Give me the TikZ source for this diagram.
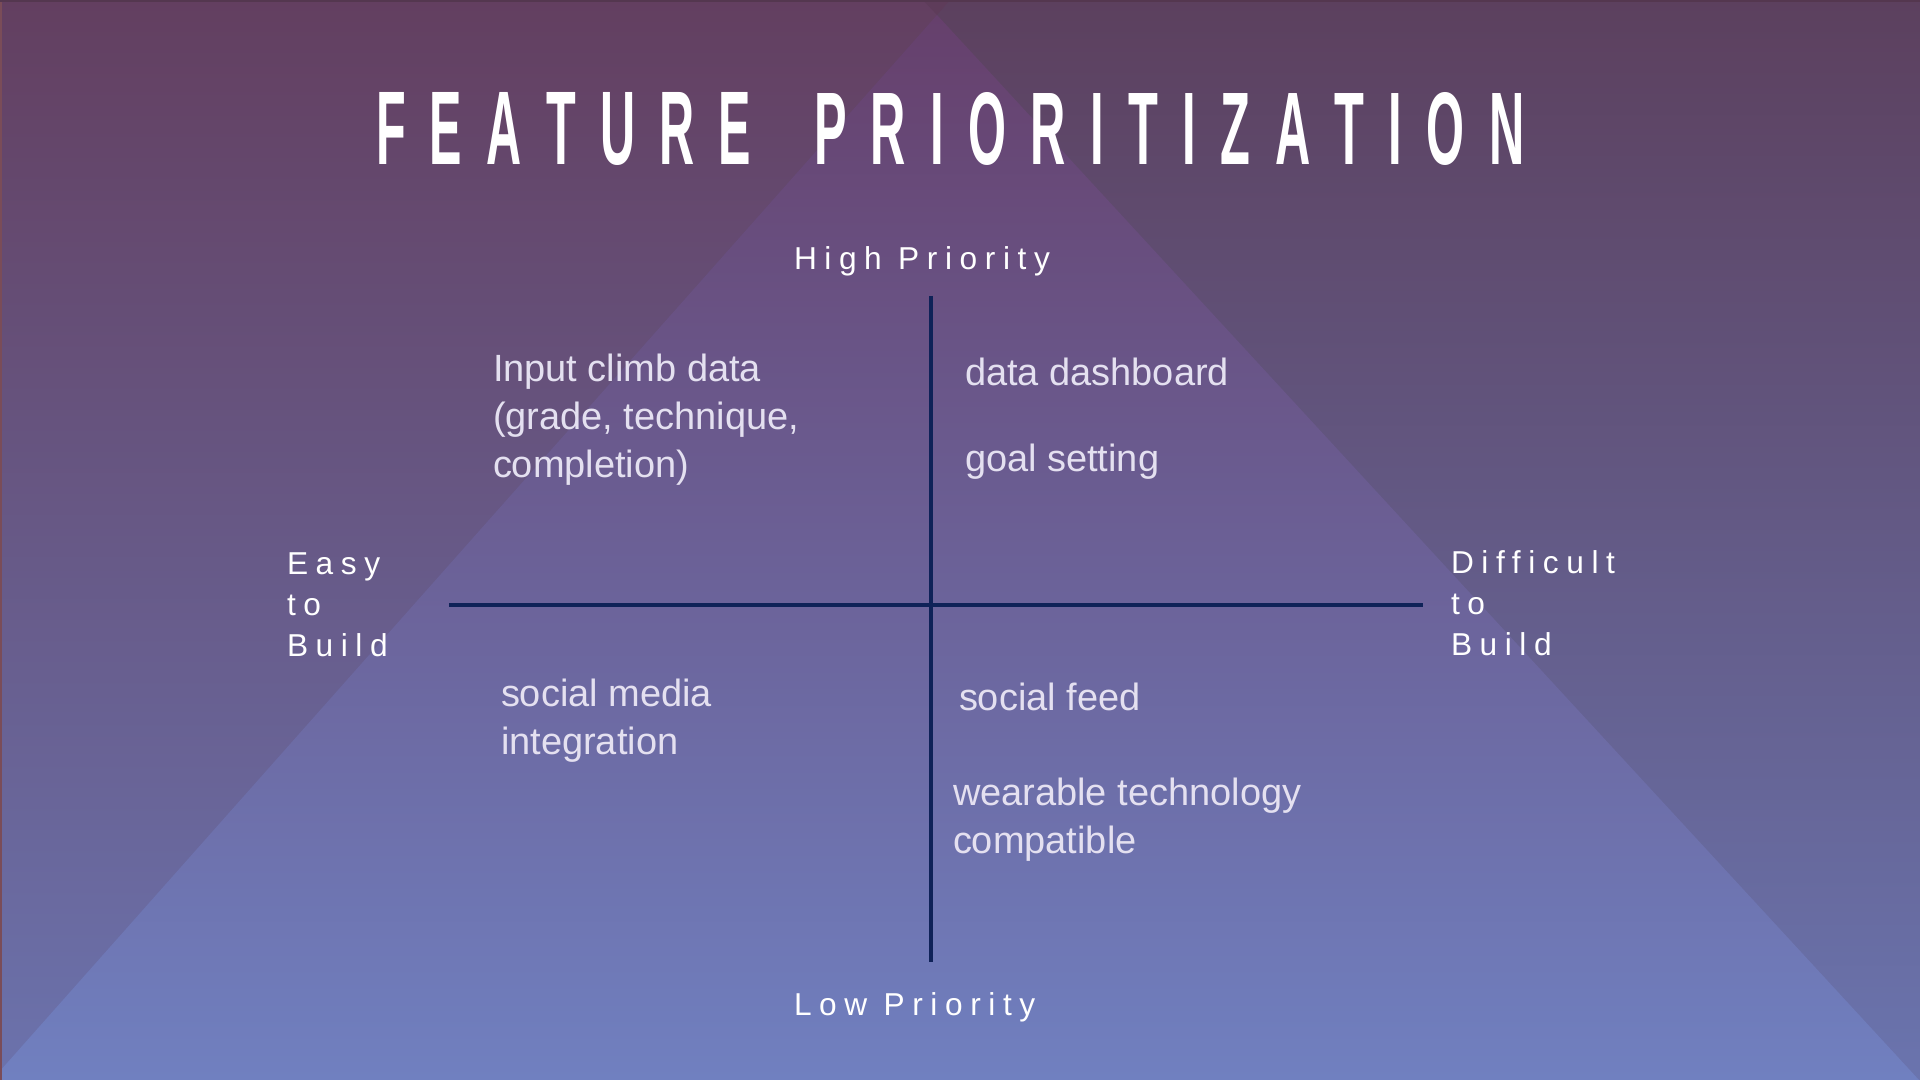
\documentclass[tikz,border=0pt]{standalone}
\usepackage{fontspec}
\usepackage{graphicx}
\setmainfont{Liberation Sans}
\newfontfamily\labelfont{Liberation Sans}[LetterSpace=24,Ligatures=CommonOff]

% gap between the letters of the title
\newcommand\tk{\kern0.5em}
% left-aligned lines with a fixed line pitch; the baseline is that of the first line
\newcommand\textstack[2]{\vtop{\baselineskip=#1\relax\halign{##\hfil\cr#2\crcr}}}

\definecolor{bgRtop}{RGB}{92,64,94}
\definecolor{bgRbot}{RGB}{106,116,174}
\definecolor{bgLtop}{RGB}{99,63,96}
\definecolor{bgLbot}{RGB}{107,114,172}
\definecolor{triTop}{RGB}{102,64,108}
\definecolor{triBot}{RGB}{112,128,192}
\definecolor{wedge}{RGB}{94,60,90}
\definecolor{edgeRed}{RGB}{122,76,88}
\definecolor{edgeTop}{RGB}{84,55,79}
\definecolor{axisnavy}{RGB}{15,34,88}
\definecolor{bodytext}{RGB}{228,224,240}

\tikzset{
  every node/.style={inner sep=0pt, outer sep=0pt},
  titleword/.style={anchor=base west, text=white},
  axislabel/.style={anchor=base west, text=white, font=\labelfont\fontsize{9}{11.66}\selectfont},
  item/.style={anchor=base west, text=bodytext, font=\fontsize{10.8}{13.65}\selectfont},
  quadaxis/.style={draw=axisnavy, line width=0.04cm},
}

\begin{document}
\begin{tikzpicture}[x=0.01cm, y=0.01cm]
\useasboundingbox (0,0) rectangle (1920,1080);

% background: two side panels, a small top wedge and the large central triangle
\shade[top color=bgRtop, bottom color=bgRbot] (0,0) rectangle (1920,1080);
\shade[top color=bgLtop, bottom color=bgLbot] (0,1080) -- (923,1080) -- (937,1065) -- (0,9) -- cycle;
\fill[wedge] (923,1080) -- (950,1080) -- (937,1065) -- cycle;
\shade[top color=triTop, bottom color=triBot] (937,1065) -- (1919,0) -- (0,0) -- (0,9) -- cycle;
\fill[edgeRed] (0,0) rectangle (2,1080);
\fill[edgeTop] (0,1078) rectangle (1920,1080);

% title
\node[titleword] (titleA) at (376,915)
  {\resizebox{3.75cm}{0.72cm}{\bfseries F\tk E\tk A\tk T\tk U\tk R\tk E}};
\node[titleword] (titleB) at (814,915)
  {\resizebox{7.10cm}{0.72cm}{\bfseries P\tk R\tk I\tk O\tk R\tk I\tk T\tk I\tk Z\tk A\tk T\tk I\tk O\tk N}};

% quadrant axes
\coordinate (axTop) at (931,784);
\coordinate (axBottom) at (931,118);
\coordinate (axLeft) at (449,475);
\coordinate (axRight) at (1423,475);
\draw[quadaxis] (axTop) -- (axBottom);
\draw[quadaxis] (axLeft) -- (axRight);

% axis labels
\node[axislabel] (high) at (794,810) {High Priority};
\node[axislabel] (low) at (794,64) {Low Priority};
\node[axislabel] (easy) at (287,505) {\textstack{11.66pt}{Easy\cr to\cr Build}};
\node[axislabel] (hard) at (1451,506) {\textstack{11.66pt}{Difficult\cr to\cr Build}};

% features in each quadrant
\node[item] (climb) at (493,698) {\textstack{13.65pt}{Input climb data\cr (grade, technique,\cr completion)}};
\node[item] (dash) at (965,694) {data dashboard};
\node[item] (goal) at (965,608) {goal setting};
\node[item] (media) at (501,373) {\textstack{13.65pt}{social media\cr integration}};
\node[item] (feed) at (959,369) {social feed};
\node[item] (wear) at (953,274) {\textstack{13.65pt}{wearable technology\cr compatible}};
\end{tikzpicture}
\end{document}
